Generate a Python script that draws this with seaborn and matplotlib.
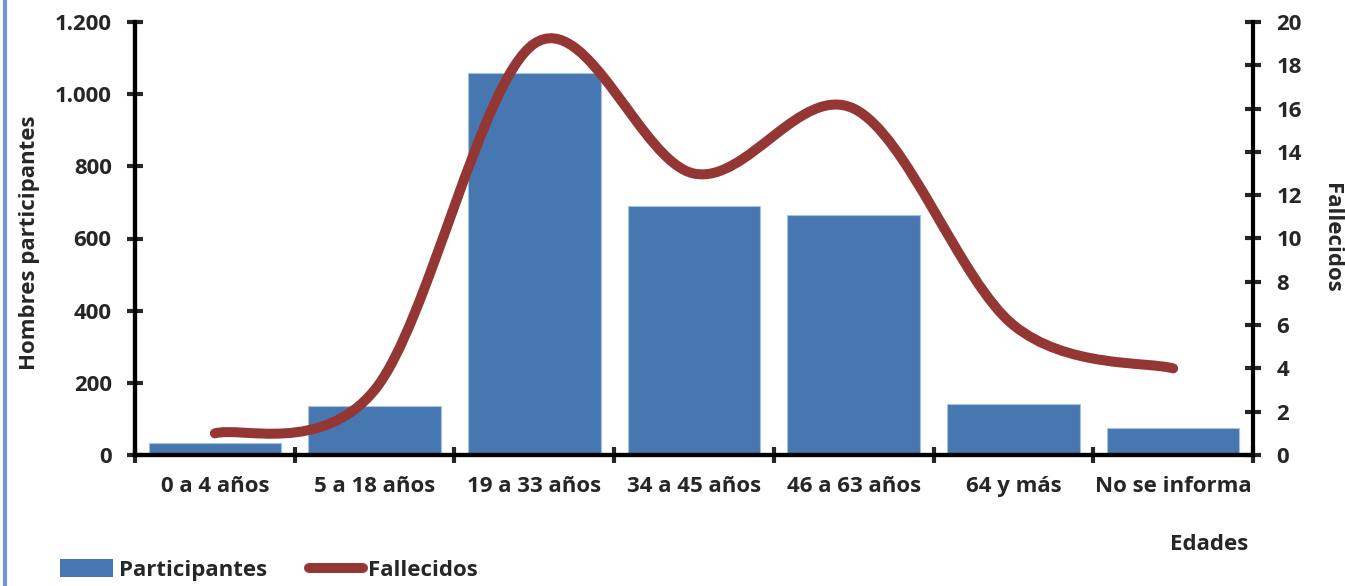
import numpy as np
import pandas as pd
import seaborn as sns
import matplotlib.pyplot as plt
from matplotlib.path import Path
from matplotlib.patches import PathPatch, Patch
from matplotlib.lines import Line2D

# hombres participantes y fallecidos por grupo de edad

edades = ['0 a 4 años', '5 a 18 años', '19 a 33 años', '34 a 45 años',
          '46 a 63 años', '64 y más', 'No se informa']
participantes = [33, 137, 1058, 690, 666, 140, 76]
fallecidos = [1, 3, 19, 13, 16, 6, 4]

BLUE = '#4677b0'
RED = '#943634'
FS = 16

sns.set_style('white')
plt.rcParams['font.family'] = ['Open Sans', 'DejaVu Sans']
plt.rcParams['font.weight'] = 'bold'


def smooth_path(xs, ys):
    # bezier segments like the office "smoothed line" option
    pts = np.column_stack([xs, ys]).astype(float)
    n = len(pts)
    verts = [pts[0]]
    codes = [Path.MOVETO]
    for i in range(n - 1):
        p_prev = pts[max(i - 1, 0)]
        p0, p1 = pts[i], pts[i + 1]
        p_next = pts[min(i + 2, n - 1)]
        c1 = p0 + (p1 - p_prev) / 6
        c2 = p1 - (p_next - p0) / 6
        verts += [c1, c2, p1]
        codes += [Path.CURVE4] * 3
    return Path(verts, codes)


df = pd.DataFrame({'edad': edades, 'participantes': participantes,
                   'fallecidos': fallecidos})

fig = plt.figure(figsize=(13.45, 5.86), dpi=100)
ax = fig.add_axes([135 / 1345, 1 - 455 / 586, (1253 - 135) / 1345, (455 - 22) / 586])

sns.barplot(data=df, x='edad', y='participantes', color=BLUE, saturation=1,
            width=0.83, edgecolor='#a9c1e0', linewidth=0.8, ax=ax)
ax.set_xlim(-0.5, len(edades) - 0.5)
ax.set_ylim(0, 1200)
ax.set_yticks(range(0, 1201, 200))
ax.set_yticklabels(['0', '200', '400', '600', '800', '1.000', '1.200'])
ax.set_xticks(np.arange(len(edades)))
ax.set_xticklabels(edades)
ax.set_xticks(np.arange(-0.5, len(edades)), minor=True)
ax.set_xlabel('')
ax.set_ylabel('')

ax2 = ax.twinx()
ax2.set_ylim(0, 20)
ax2.set_yticks(range(0, 21, 2))
ax2.add_patch(PathPatch(smooth_path(np.arange(len(edades)), df['fallecidos']),
                        facecolor='none', edgecolor=RED, lw=7.2,
                        capstyle='round', joinstyle='round'))

for a in (ax, ax2):
    for s in a.spines.values():
        s.set_linewidth(3)
        s.set_color('black')
    a.spines['top'].set_visible(False)
ax.spines['right'].set_visible(False)

ax.tick_params(axis='y', direction='inout', length=11.5, width=3, pad=11,
               labelsize=FS, left=True)
ax.tick_params(axis='x', which='major', length=0, pad=15, labelsize=FS)
ax.tick_params(axis='x', which='minor', direction='inout', length=11.5, width=3,
               bottom=True)
ax2.tick_params(axis='y', direction='inout', length=11.5, width=3, pad=11,
                labelsize=FS, right=True)
for lab in ax.get_xticklabels() + ax.get_yticklabels() + ax2.get_yticklabels():
    lab.set_fontweight('bold')

fig.text(30 / 1345, 1 - 243 / 586, 'Hombres participantes', rotation=90,
         ha='center', va='center', fontsize=FS, fontweight='bold')
fig.text(1332 / 1345, 1 - 238 / 586, 'Fallecidos', rotation=270,
         ha='center', va='center', fontsize=FS, fontweight='bold')
fig.text(1248 / 1345, 1 - 545 / 586, 'Edades', ha='right', va='center',
         fontsize=FS, fontweight='bold')

# borde azul a la izquierda
fig.add_artist(Line2D([5 / 1345, 5 / 1345], [0, 1], color='#6f9ad0', lw=3))

handles = [Patch(facecolor=BLUE, edgecolor='none'),
           Line2D([], [], color=RED, lw=7.2, solid_capstyle='round')]
fig.legend(handles, ['Participantes', 'Fallecidos'], loc='lower left',
           bbox_to_anchor=(40 / 1345, -15 / 586), ncol=2, frameon=False,
           prop={'size': FS, 'weight': 'bold'}, handlelength=2.4,
           handleheight=0.85, handletextpad=0.25, columnspacing=1.9)

fig.savefig('out.png', dpi=100)
